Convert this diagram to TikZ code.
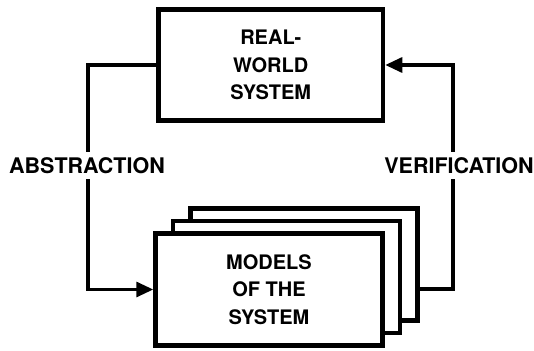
\documentclass[tikz,border=0pt]{standalone}
\usepackage{fontspec}
\setmainfont{TeX Gyre Heros}
\usetikzlibrary{arrows.meta}

\tikzset{
  blockbox/.style={draw, fill=white, line width=4.5pt, inner sep=0pt,
    align=center, font=\fontsize{20}{27.5}\selectfont\bfseries},
  conn/.style={line width=3.2pt},
  arr/.style={conn, -{Triangle[length=17pt,width=15pt]}},
  flowlabel/.style={fill=white, inner xsep=0pt, inner ysep=5pt,
    font=\fontsize{21.5}{24}\selectfont\bfseries}
}

\begin{document}
\begin{tikzpicture}[x=1pt,y=-1pt]
  \useasboundingbox (0,0) rectangle (534,350);

  % real-world system
  \node[blockbox, minimum width=224.5pt, minimum height=111pt] (real) at (270.75,65)
    {REAL-\\WORLD\\SYSTEM};

  % stack of models, back to front
  \node[blockbox, minimum width=227pt, minimum height=112pt] (back)   at (304,264.5) {};
  \node[blockbox, minimum width=227pt, minimum height=112pt] (middle) at (286.5,277) {};
  \node[blockbox, minimum width=227pt, minimum height=112pt] (front)  at (269,289.5)
    {MODELS\\OF THE\\SYSTEM};

  % abstraction loop
  \coordinate (absturn) at (88,289.5);
  \draw[arr] (real.west) -| (absturn) -- (front.west);

  % verification loop
  \coordinate (verturn) at (453,289);
  \draw[arr] (back.east |- verturn) -- (verturn) |- (real.east);

  % labels over the connectors
  \node[flowlabel] (abslabel) at (87,165.5) {ABSTRACTION};
  \node[flowlabel] (verlabel) at (459,165.5) {VERIFICATION};
\end{tikzpicture}
\end{document}
